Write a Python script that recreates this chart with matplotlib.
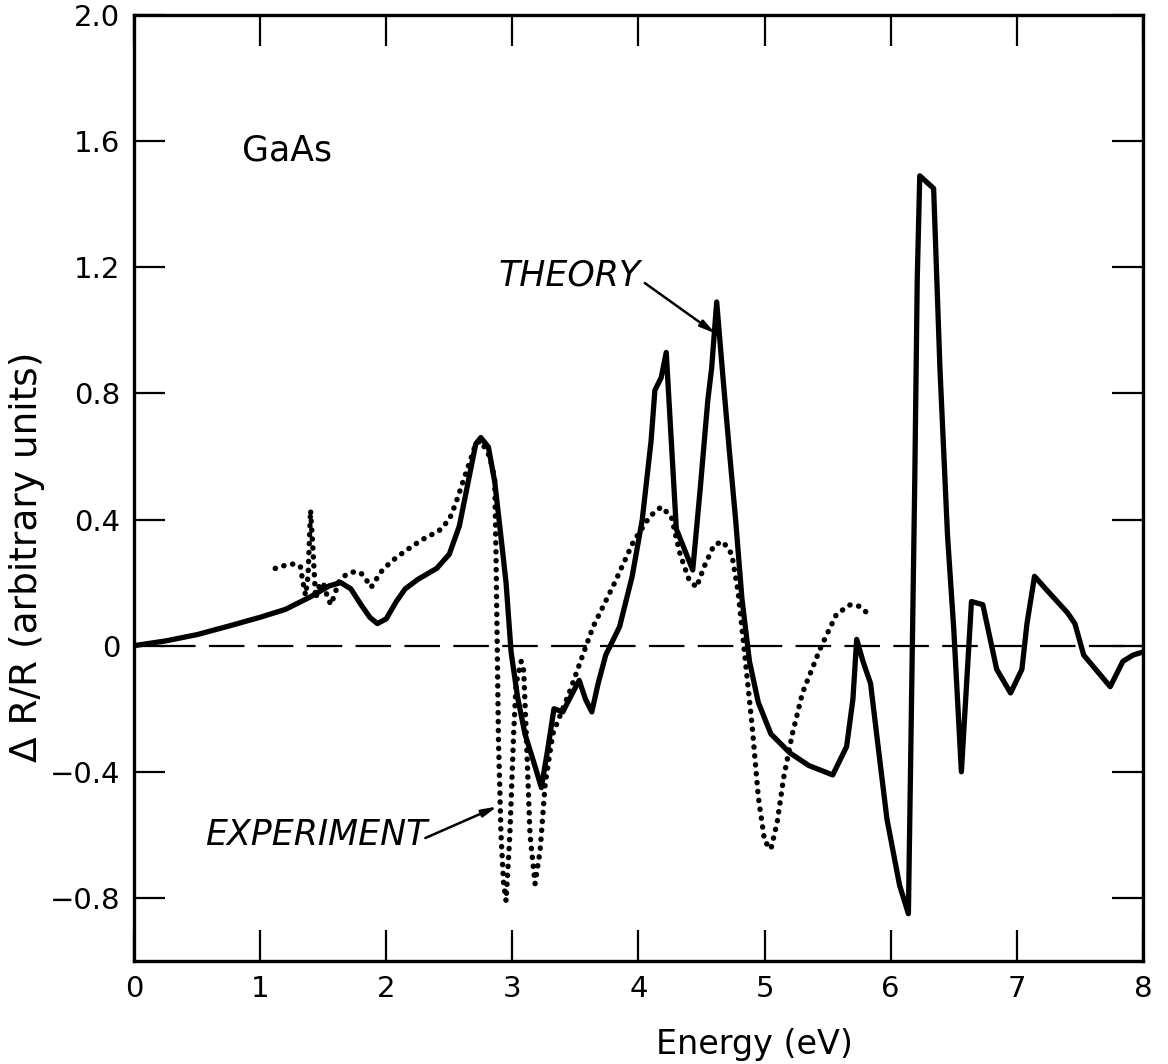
import numpy as np
import matplotlib
matplotlib.use("Agg")
import matplotlib.pyplot as plt

# Theoretical reflectance modulation spectrum (solid curve)
theory_e = [0.0, 0.25, 0.5, 0.75, 1.0, 1.2, 1.4, 1.55, 1.64, 1.72, 1.8, 1.87, 1.93,
            2.0, 2.08, 2.15, 2.25, 2.4, 2.5, 2.58, 2.65, 2.71, 2.75, 2.81, 2.86, 2.9,
            2.95, 2.99, 3.04, 3.1, 3.17, 3.23, 3.28, 3.33, 3.4, 3.49, 3.53, 3.58, 3.63,
            3.68, 3.74, 3.85, 3.95, 4.03, 4.1, 4.13, 4.18, 4.22, 4.26, 4.3, 4.35, 4.43,
            4.49, 4.55, 4.58, 4.62, 4.67, 4.72, 4.77, 4.82, 4.88, 4.95, 5.05, 5.2, 5.35,
            5.54, 5.65, 5.7, 5.73, 5.78, 5.84, 5.9, 5.97, 6.07, 6.14, 6.19, 6.21, 6.23,
            6.34, 6.39, 6.45, 6.5, 6.56, 6.64, 6.73, 6.84, 6.95, 7.04, 7.08, 7.14, 7.24,
            7.4, 7.46, 7.53, 7.74, 7.84, 7.92, 8.0]
theory_dr = [0.0, 0.015, 0.035, 0.062, 0.09, 0.115, 0.155, 0.19, 0.2, 0.18, 0.13, 0.09, 0.07,
             0.085, 0.14, 0.18, 0.21, 0.245, 0.29, 0.38, 0.52, 0.64, 0.66, 0.63, 0.52, 0.38,
             0.2, -0.02, -0.16, -0.28, -0.37, -0.45, -0.33, -0.2, -0.21, -0.14, -0.11, -0.17, -0.21,
             -0.12, -0.03, 0.06, 0.22, 0.4, 0.65, 0.81, 0.85, 0.93, 0.65, 0.37, 0.32, 0.24,
             0.5, 0.78, 0.88, 1.09, 0.85, 0.62, 0.4, 0.15, -0.05, -0.18, -0.28, -0.34, -0.38,
             -0.41, -0.32, -0.17, 0.02, -0.05, -0.12, -0.32, -0.55, -0.76, -0.85, 0.51, 1.16, 1.49,
             1.45, 0.88, 0.35, 0.05, -0.4, 0.14, 0.13, -0.075, -0.15, -0.075, 0.07, 0.22, 0.175,
             0.105, 0.07, -0.03, -0.13, -0.05, -0.03, -0.02]

# Measured spectrum (dotted curve)
exp_e = [1.12, 1.2, 1.28, 1.32, 1.34, 1.36, 1.38, 1.4, 1.42, 1.44, 1.47, 1.5, 1.53, 1.56,
         1.59, 1.62, 1.68, 1.75, 1.8, 1.84, 1.88, 1.92, 1.97, 2.05, 2.15, 2.28, 2.42, 2.5,
         2.55, 2.6, 2.66, 2.71, 2.75, 2.82, 2.86, 2.87, 2.88, 2.89, 2.91, 2.93, 2.95, 2.98,
         3.01, 3.03, 3.07, 3.09, 3.11, 3.14, 3.18, 3.22, 3.26, 3.32, 3.39, 3.46, 3.54, 3.64,
         3.8, 3.96, 4.09, 4.18, 4.26, 4.33, 4.4, 4.46, 4.52, 4.6, 4.67, 4.74, 4.79, 4.84,
         4.9, 4.95, 5.0, 5.05, 5.1, 5.15, 5.22, 5.3, 5.44, 5.57, 5.68, 5.75, 5.81]
exp_dr = [0.245, 0.255, 0.26, 0.25, 0.2, 0.16, 0.22, 0.43, 0.3, 0.15, 0.19, 0.2, 0.16, 0.13,
          0.16, 0.2, 0.225, 0.235, 0.23, 0.21, 0.185, 0.21, 0.24, 0.27, 0.3, 0.335, 0.365, 0.4,
          0.45, 0.51, 0.58, 0.64, 0.65, 0.6, 0.53, 0.3, 0.0, -0.3, -0.6, -0.75, -0.81, -0.6,
          -0.28, -0.12, -0.05, -0.08, -0.28, -0.6, -0.755, -0.65, -0.44, -0.28, -0.21, -0.14, -0.05, 0.06,
          0.19, 0.33, 0.41, 0.44, 0.41, 0.29, 0.21, 0.185, 0.25, 0.32, 0.33, 0.29, 0.17, -0.02,
          -0.25, -0.48, -0.62, -0.645, -0.56, -0.42, -0.28, -0.15, -0.01, 0.1, 0.13, 0.125, 0.105]

y_ticks = [-0.8, -0.4, 0, 0.4, 0.8, 1.2, 1.6, 2.0]
y_tick_labels = ["\u22120.8", "\u22120.4", "0", "0.4", "0.8", "1.2", "1.6", "2.0"]
x_ticks = [0, 1, 2, 3, 4, 5, 6, 7, 8]

plt.rcParams["font.family"] = ["DejaVu Sans"]

fig = plt.figure(figsize=(11.68, 10.64), dpi=100)
ax = fig.add_axes([0.1147, 0.0968, 0.8639, 0.8891])

# zero reference line
ax.plot([0.21, 8.0], [0, 0], color="black", lw=1.6, linestyle=(0, (16, 6)))

ax.plot(theory_e, theory_dr, color="black", lw=3.8, solid_joinstyle="round",
        solid_capstyle="round")
ax.plot(exp_e, exp_dr, color="black", lw=3.9, linestyle=(0, (0.05, 1.6)),
        dash_capstyle="round")

ax.set_xlim(0, 8)
ax.set_ylim(-1.0, 2.0)
ax.set_xticks(x_ticks)
ax.set_xticklabels([str(t) for t in x_ticks])
ax.set_yticks(y_ticks)
ax.set_yticklabels(y_tick_labels)
ax.tick_params(direction="in", length=22, width=1.6, top=True, right=True,
               labelsize=21, pad=10)
for sp in ax.spines.values():
    sp.set_linewidth(2.4)

ax.set_xlabel("Energy (eV)", fontsize=24)
ax.xaxis.set_label_coords(0.615, -0.071)
ax.set_ylabel("\u0394 R/R (arbitrary units)", fontsize=27)
ax.yaxis.set_label_coords(-0.088, 0.427)

ax.text(0.86, 1.57, "GaAs", fontsize=25, va="center", ha="left")
ax.text(2.89, 1.175, "THEORY", fontsize=25, style="italic", va="center", ha="left")
ax.text(0.56, -0.6, "EXPERIMENT", fontsize=25, style="italic", va="center", ha="left")

arrow = dict(arrowstyle="-|>,head_length=0.9,head_width=0.22", color="black", lw=1.8,
             shrinkA=0, shrinkB=0)
ax.annotate("", xy=(4.61, 0.99), xytext=(4.05, 1.15), arrowprops=arrow)
ax.annotate("", xy=(2.88, -0.51), xytext=(2.31, -0.61), arrowprops=arrow)

fig.savefig("out.png", dpi=100)
